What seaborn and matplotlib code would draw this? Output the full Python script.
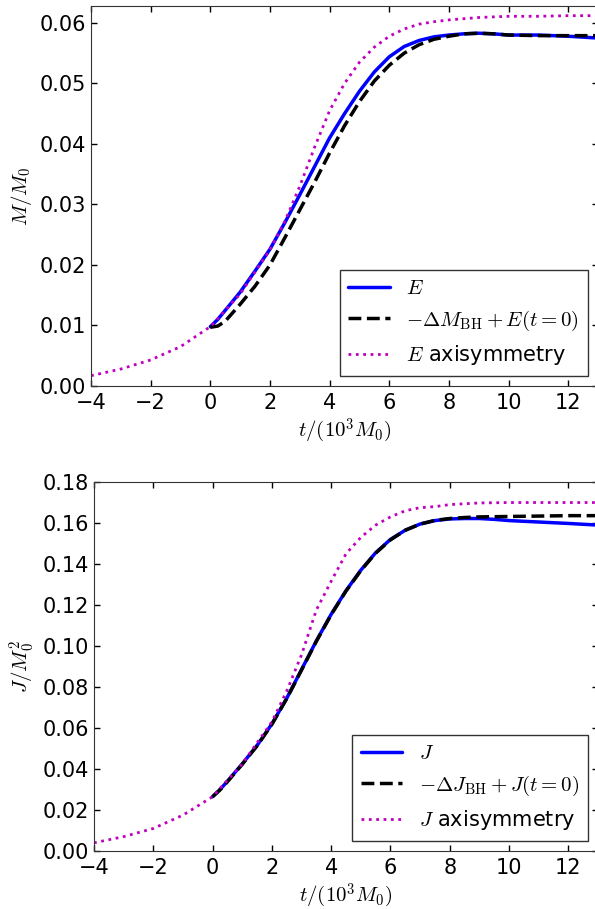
import matplotlib
matplotlib.use('Agg')
import matplotlib.pyplot as plt
import seaborn as sns

sns.set_style('ticks')
plt.rcParams['font.family'] = ['DejaVu Sans']
plt.rcParams['mathtext.fontset'] = 'cm'
plt.rcParams['xtick.direction'] = 'in'
plt.rcParams['ytick.direction'] = 'in'
plt.rcParams['xtick.top'] = True
plt.rcParams['ytick.right'] = True
plt.rcParams['text.color'] = 'black'
plt.rcParams['axes.labelcolor'] = 'black'
plt.rcParams['xtick.color'] = 'black'
plt.rcParams['ytick.color'] = 'black'

# energy panel
t_axi = [-4, -3, -2, -1, 0, 1, 2, 2.5, 3, 3.5, 4, 4.5, 5, 5.5, 6, 6.5, 7, 7.5, 8, 9, 10, 11, 12, 13]
e_axi = [0.0017, 0.0028, 0.0043, 0.0065, 0.0098, 0.0152, 0.0225, 0.0272, 0.0330, 0.0395, 0.0455,
         0.0500, 0.0535, 0.0560, 0.0578, 0.0590, 0.0598, 0.0602, 0.0605, 0.0609, 0.0611, 0.0611,
         0.0612, 0.0612]

t_run = [0, 0.25, 0.5, 1, 1.5, 2, 2.5, 3, 3.5, 4, 4.5, 5, 5.5, 6, 6.5, 7, 7.5, 8, 8.5, 9, 9.5,
         10, 11, 12, 13]
e_run = [0.0098, 0.0110, 0.0125, 0.0155, 0.0190, 0.0226, 0.0270, 0.0316, 0.0363, 0.0410, 0.0450,
         0.0487, 0.0519, 0.0544, 0.0561, 0.0571, 0.0577, 0.0580, 0.0582, 0.0583, 0.0582,
         0.0580, 0.0580, 0.0578, 0.0575]
e_bh = [0.0097, 0.0099, 0.0107, 0.0135, 0.0165, 0.0200, 0.0245, 0.0291, 0.0337, 0.0385, 0.0430,
        0.0470, 0.0504, 0.0530, 0.0550, 0.0564, 0.0573, 0.0578, 0.0582, 0.0583, 0.0582,
        0.0580, 0.0579, 0.0579, 0.0579]

# angular momentum panel
j_axi = [0.0040, 0.0070, 0.0110, 0.0175, 0.0265, 0.0425, 0.0630, 0.0780, 0.0957, 0.1176, 0.1316,
         0.1450, 0.1530, 0.1590, 0.1630, 0.1660, 0.1675, 0.1680, 0.1690, 0.1698, 0.1700, 0.1700,
         0.1700, 0.1700]
j_run = [0.0265, 0.0300, 0.0340, 0.0425, 0.0515, 0.0620, 0.0745, 0.0885, 0.1025, 0.1155, 0.1270,
         0.1370, 0.1455, 0.1520, 0.1565, 0.1595, 0.1612, 0.1620, 0.1622, 0.1622, 0.1618,
         0.1612, 0.1605, 0.1598, 0.1590]
j_bh = [0.0265, 0.0298, 0.0338, 0.0423, 0.0513, 0.0618, 0.0743, 0.0883, 0.1023, 0.1153, 0.1268,
        0.1368, 0.1453, 0.1518, 0.1565, 0.1595, 0.1613, 0.1622, 0.1627, 0.1630, 0.1631,
        0.1632, 0.1634, 0.1636, 0.1636]

fig = plt.figure(figsize=(5.95, 9.09), dpi=100)
ax1 = fig.add_axes([0.153, 0.5754, 0.852, 0.418])
ax2 = fig.add_axes([0.158, 0.0638, 0.847, 0.4059])

panels = [
    (ax1, e_run, e_bh, e_axi, r'$E$', r'$-\Delta M_{\rm BH}+E(t=0)$', r'$E$ axisymmetry',
     r'$M/M_0$', 0.0628),
    (ax2, j_run, j_bh, j_axi, r'$J$', r'$-\Delta J_{\rm BH}+J(t=0)$', r'$J$ axisymmetry',
     r'$J/M_0^2$', 0.18),
]

for ax, run, bh, axi, l1, l2, l3, ylab, ytop in panels:
    sns.lineplot(x=t_run, y=run, ax=ax, color='b', lw=2.5, label=l1)
    sns.lineplot(x=t_run, y=bh, ax=ax, color='k', lw=2.5, ls='--', label=l2)
    sns.lineplot(x=t_axi, y=axi, ax=ax, color='m', lw=2, ls=':', label=l3)
    ax.set_xlim(-4, 13)
    ax.set_ylim(0, ytop)
    ax.set_xticks([-4, -2, 0, 2, 4, 6, 8, 10, 12])
    ax.tick_params(labelsize=15, length=4, width=1)
    ax.tick_params(axis='x', pad=5)
    ax.set_xlabel(r'$t/(10^3M_0)$', fontsize=15, labelpad=3)
    ax.set_ylabel(ylab, fontsize=15)
    for s in ax.spines.values():
        s.set_color('#333333')
    leg = ax.legend(loc='lower right', fontsize=15, fancybox=False, framealpha=1,
                    edgecolor='#333333', handlelength=2)
    leg.get_frame().set_linewidth(1)

ax1.set_yticks([0.00, 0.01, 0.02, 0.03, 0.04, 0.05, 0.06])
ax1.set_yticklabels(['0.00', '0.01', '0.02', '0.03', '0.04', '0.05', '0.06'])
ax2.set_yticks([0.00, 0.02, 0.04, 0.06, 0.08, 0.10, 0.12, 0.14, 0.16, 0.18])
ax2.set_yticklabels(['0.00', '0.02', '0.04', '0.06', '0.08', '0.10', '0.12', '0.14', '0.16', '0.18'])

fig.savefig('out.png', dpi=100)
